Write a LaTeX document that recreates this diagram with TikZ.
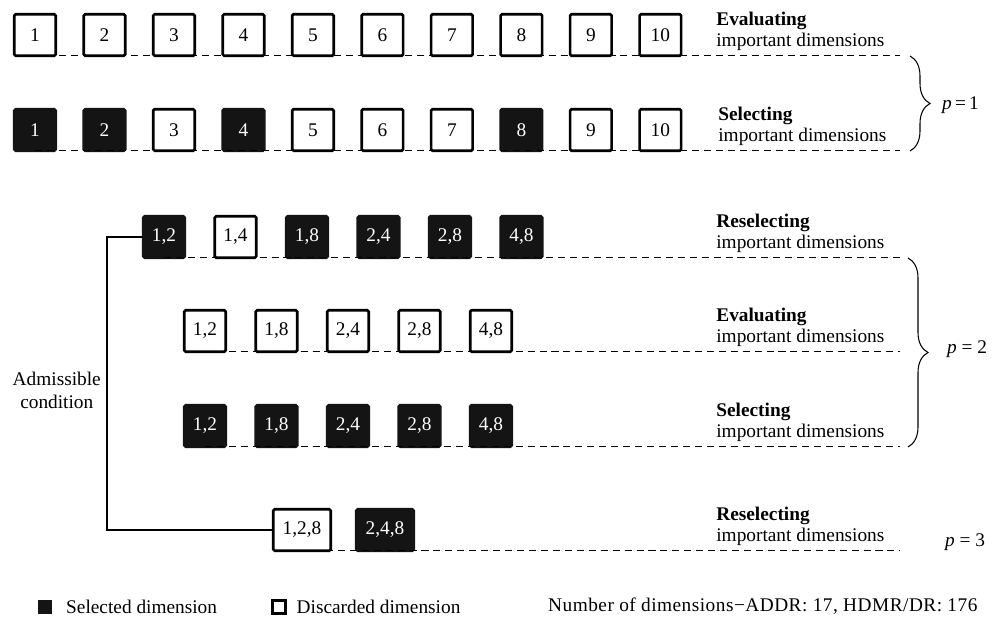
\documentclass[tikz,border=0pt]{standalone}
\usepackage{fontspec}
\setmainfont{Liberation Serif}
\usetikzlibrary{positioning, decorations.pathreplacing}

\begin{document}
\begin{tikzpicture}[
        x=0.02cm, y=-0.02cm,
        every node/.style={font=\fontsize{11}{12}\selectfont},
        dimbox/.style={
            rectangle, rounded corners=0.8pt,
            minimum width=0.83cm, minimum height=0.83cm,
            inner sep=0pt, outer sep=0pt, line width=1.5pt
        },
        seldim/.style={dimbox, draw=black!92, fill=black!92, text=white},
        disdim/.style={dimbox, draw=black, fill=white},
        widebox/.style={minimum width=1.15cm},
        keybox/.style={
            rectangle, inner sep=0pt, outer sep=0pt,
            minimum width=0.3cm, minimum height=0.3cm
        },
        stage/.style={anchor=south west, align=left, inner xsep=0pt, inner ysep=2.6pt},
        guide/.style={dash pattern=on 4pt off 2.8pt, line width=0.6pt},
        brc/.style={decorate, decoration={brace, amplitude=0.4cm}, line width=0.6pt},
    ]

    \useasboundingbox (0,0) rectangle (997,617);

    % p = 1: evaluating all ten dimensions, then selecting
    \node (e1)  [disdim] at (35,35) {1};
    \node (e2)  [disdim, right=0.56cm of e1] {2};
    \node (e3)  [disdim, right=0.56cm of e2] {3};
    \node (e4)  [disdim, right=0.56cm of e3] {4};
    \node (e5)  [disdim, right=0.56cm of e4] {5};
    \node (e6)  [disdim, right=0.56cm of e5] {6};
    \node (e7)  [disdim, right=0.56cm of e6] {7};
    \node (e8)  [disdim, right=0.56cm of e7] {8};
    \node (e9)  [disdim, right=0.56cm of e8] {9};
    \node (e10) [disdim, right=0.56cm of e9] {10};

    \node (s1)  [seldim, below=1.07cm of e1]  {1};
    \node (s2)  [seldim, below=1.07cm of e2]  {2};
    \node (s3)  [disdim, below=1.07cm of e3]  {3};
    \node (s4)  [seldim, below=1.07cm of e4]  {4};
    \node (s5)  [disdim, below=1.07cm of e5]  {5};
    \node (s6)  [disdim, below=1.07cm of e6]  {6};
    \node (s7)  [disdim, below=1.07cm of e7]  {7};
    \node (s8)  [seldim, below=1.07cm of e8]  {8};
    \node (s9)  [disdim, below=1.07cm of e9]  {9};
    \node (s10) [disdim, below=1.07cm of e10] {10};

    % p = 2: pairs of the selected dimensions
    \node (r1) [seldim] at (164,237) {1,2};
    \node (r2) [disdim, right=0.6cm of r1] {1,4};
    \node (r3) [seldim, right=0.6cm of r2] {1,8};
    \node (r4) [seldim, right=0.6cm of r3] {2,4};
    \node (r5) [seldim, right=0.6cm of r4] {2,8};
    \node (r6) [seldim, right=0.6cm of r5] {4,8};

    \node (v1) [disdim] at (205,331) {1,2};
    \node (v2) [disdim, right=0.6cm of v1] {1,8};
    \node (v3) [disdim, right=0.6cm of v2] {2,4};
    \node (v4) [disdim, right=0.6cm of v3] {2,8};
    \node (v5) [disdim, right=0.6cm of v4] {4,8};

    \node (u1) [seldim, below=1.07cm of v1] {1,2};
    \node (u2) [seldim, below=1.07cm of v2] {1,8};
    \node (u3) [seldim, below=1.07cm of v3] {2,4};
    \node (u4) [seldim, below=1.07cm of v4] {2,8};
    \node (u5) [seldim, below=1.07cm of v5] {4,8};

    % p = 3
    \node (f1) [disdim, widebox] at (302,530) {1,2,8};
    \node (f2) [seldim, widebox, right=0.51cm of f1] {2,4,8};

    \coordinate (rim) at (900,0);
    \draw [guide] (e1.south) -- (e1.south -| rim);
    \draw [guide] (s1.south) -- (s1.south -| rim);
    \draw [guide] (r1.south) -- (r1.south -| rim);
    \draw [guide] (v1.south) -- (v1.south -| rim);
    \draw [guide] (u1.south) -- (u1.south -| rim);
    \draw [guide] (f1.south) -- (f1.south -| rim);

    \node (lab1) [stage] at (716,56)  {\textbf{Evaluating}\\important dimensions};
    \node (lab2) [stage] at (718,151) {\textbf{Selecting}\\important dimensions};
    \node (lab3) [stage] at (716,258) {\textbf{Reselecting}\\important dimensions};
    \node (lab4) [stage] at (716,352) {\textbf{Evaluating}\\important dimensions};
    \node (lab5) [stage] at (716,447) {\textbf{Selecting}\\important dimensions};
    \node (lab6) [stage] at (716,551) {\textbf{Reselecting}\\important dimensions};

    \coordinate (p1top) at (910,56);
    \coordinate (p1bot) at (910,151);
    \coordinate (p2top) at (908,258);
    \coordinate (p2bot) at (908,447);
    \draw [brc] (p1top) -- (p1bot);
    \draw [brc] (p2top) -- (p2bot);
    \node (p1) [anchor=base west] at (936,110) {\textit{p}\,=\,1};
    \node (p2) [anchor=base west] at (941,354) {\textit{p} = 2};
    \node (p3) [anchor=base west] at (939,547) {\textit{p} = 3};

    \coordinate (admx) at (107,390);
    \draw [line width=0.6pt] (r1.west) -| (admx) |- (f1.west);
    \node (adm) [align=center, font=\fontsize{11}{13}\selectfont, left=0pt of admx]
               {Admissible\\condition};

    \node (keysel) [keybox, fill=black!92] at (45,607) {};
    \node (keyseltxt) [right=0.15cm of keysel] {Selected dimension};
    \node (keydis) [keybox, draw=black, line width=1.2pt, minimum width=0.26cm, minimum height=0.26cm] at (279,607) {};
    \node (keydistxt) [right=0.1cm of keydis] {Discarded dimension};
    \node (ndims) [anchor=base west] at (542,612)
                  {\addfontfeature{LetterSpace=2.5}Number of dimensions−ADDR: 17, HDMR/DR: 176};

\end{tikzpicture}
\end{document}
